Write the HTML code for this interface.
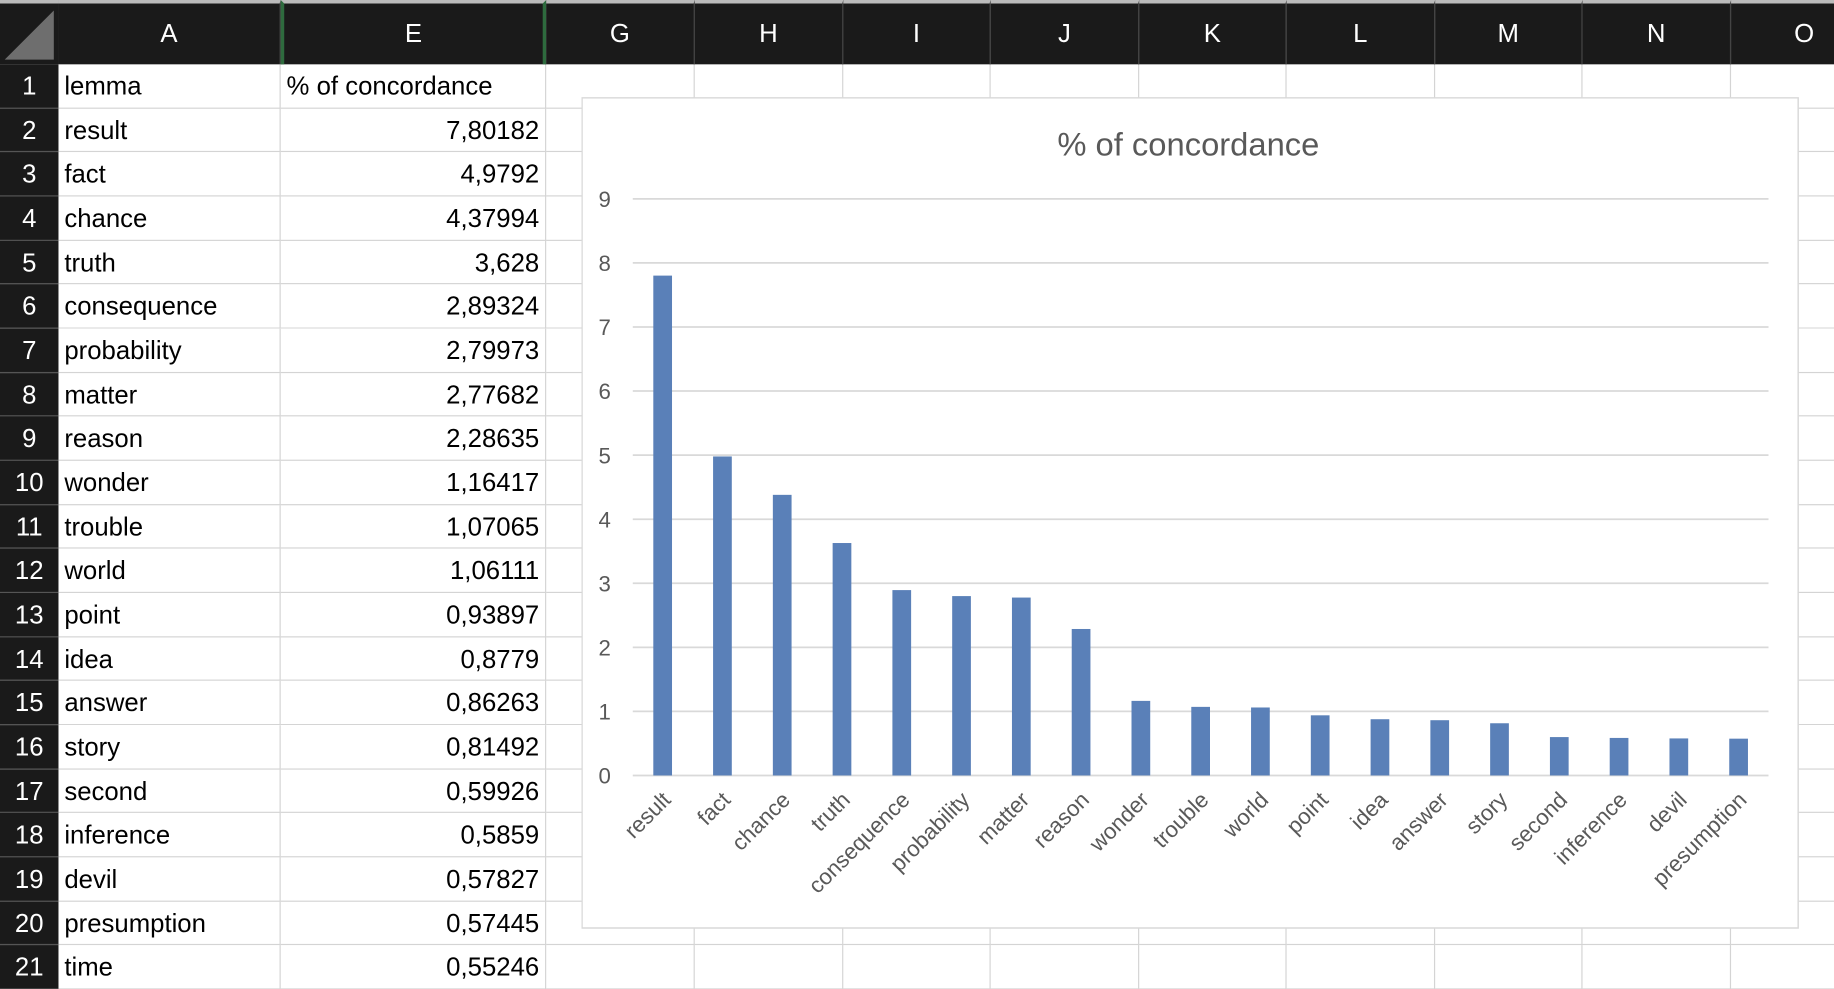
<!DOCTYPE html>
<html><head><meta charset="utf-8">
<style>
html,body{margin:0;padding:0;background:#fff;}
body{width:1834px;height:960px;overflow:hidden;position:relative;}
#wrap{position:absolute;left:0;top:0;width:1568px;height:821px;transform:scale(1.16964);transform-origin:0 0;font-family:"Liberation Sans",sans-serif;}
.abs{position:absolute;box-sizing:border-box;}
.hdr{background:#1a1a1a;color:#fff;font-size:22px;text-align:center;line-height:55px;border-right:1px solid #444;}
.rn{background:#1a1a1a;color:#fff;font-size:22px;text-align:center;border-bottom:1px solid #555;}
.cell{border-right:1px solid #d4d4d4;border-bottom:1px solid #d4d4d4;font-size:22px;color:#000;white-space:nowrap;overflow:hidden;}
</style></head>
<body>
<div id="wrap">
<svg id="chartsvg" class="abs" style="left:497px;top:83px;" width="1041" height="711"></svg>
</div>
<script>
const categories=["result","fact","chance","truth","consequence","probability","matter","reason","wonder","trouble","world","point","idea","answer","story","second","inference","devil","presumption"];
const values=[7.80182,4.9792,4.37994,3.628,2.89324,2.79973,2.77682,2.28635,1.16417,1.07065,1.06111,0.93897,0.8779,0.86263,0.81492,0.59926,0.5859,0.57827,0.57445];
const cellText=["7,80182","4,9792","4,37994","3,628","2,89324","2,79973","2,77682","2,28635","1,16417","1,07065","1,06111","0,93897","0,8779","0,86263","0,81492","0,59926","0,5859","0,57827","0,57445"];
const yTicks=[0,1,2,3,4,5,6,7,8,9];

const wrap=document.getElementById('wrap');
const colEdges=[50,240,467,594,721,847,974,1100,1227,1353,1480,1606];
const colNames=["A","E","G","H","I","J","K","L","M","N","O"];
const rowTop=55,rowH=37.66;

// grid cells behind chart
for(let r=0;r<21;r++){
  for(let c=0;c<colNames.length;c++){
    const d=document.createElement('div');
    d.className='abs cell';
    
    
    d.style.left=colEdges[c]+'px';d.style.top=(rowTop+r*rowH)+'px';
    d.style.width=(colEdges[c+1]-colEdges[c])+'px';d.style.height=rowH+'px';
    d.style.lineHeight=rowH+'px';
    if(c===0){d.style.paddingLeft='5px';d.textContent=r===0?'lemma':(categories[r-1]||'time');}
    if(c===1){
      if(r===0){d.style.paddingLeft='5px';d.textContent='% of concordance';}
      else{d.style.textAlign='right';d.style.paddingRight='5px';d.textContent=cellText[r-1]||'0,55246';}
    }
    wrap.insertBefore(d,wrap.firstChild);
  }
  const n=document.createElement('div');
  n.className='abs rn';
  
  
  n.style.left='0px';n.style.top=(rowTop+r*rowH)+'px';n.style.width='50px';n.style.height=rowH+'px';n.style.lineHeight=rowH+'px';
  n.textContent=r+1;
  wrap.appendChild(n);
}
// header
const corner=document.createElement('div');
corner.className='abs';


corner.style.cssText='left:0;top:0;width:50px;height:55px;background:#1a1a1a;border-top:3px solid #bbb;';
corner.innerHTML='<svg width="50" height="52"><polygon points="46,6 46,48 4,48" fill="#6e6e6e"/></svg>';
wrap.appendChild(corner);
for(let c=0;c<colNames.length;c++){
  const h=document.createElement('div');
  h.className='abs hdr';
  
  
  h.style.left=colEdges[c]+'px';h.style.top='0px';h.style.width=(colEdges[c+1]-colEdges[c])+'px';h.style.height='55px';
  h.style.borderTop='3px solid #bbb';h.style.lineHeight='52px';
  if(c===1){h.style.borderLeft='3px solid #2e6b3e';h.style.borderRight='3px solid #2e6b3e';}
  h.textContent=colNames[c];
  wrap.appendChild(h);
}

// chart
const svg=document.getElementById('chartsvg');
const NS='http://www.w3.org/2000/svg';
const ox=497,oy=83;
function mk(t,a){const e=document.createElementNS(NS,t);for(const k in a)e.setAttribute(k,a[k]);svg.appendChild(e);return e;}
const bg=mk('rect',{x:0.5,y:0.5,width:1040,height:710,fill:'#fff',stroke:'#d9d9d9','stroke-width':1.5});


const title=mk('text',{x:1016-ox,y:133-oy,'text-anchor':'middle','font-size':28,fill:'#595959','font-family':'Liberation Sans, sans-serif'});
title.textContent='% of concordance';


const plotL=541-ox,plotR=1512-ox,y0=663-oy,y9=170-oy,yMax=9;
const yScale=v=>y0-(v/yMax)*(y0-y9);
const step=(plotR-plotL)/categories.length;
const xScale=i=>plotL+step*(i+0.5);
yTicks.forEach(t=>{
  const g=mk('line',{x1:plotL,x2:plotR,y1:yScale(t),y2:yScale(t),stroke:'#d9d9d9','stroke-width':1.5});
  
  
  const l=mk('text',{x:517-ox,y:yScale(t)+7,'text-anchor':'middle','font-size':19,fill:'#595959','font-family':'Liberation Sans, sans-serif'});
  l.textContent=t;
  
  
});
const bw=16;
categories.forEach((c,i)=>{
  const b=mk('rect',{x:xScale(i)-bw/2,y:yScale(values[i]),width:bw,height:y0-yScale(values[i]),fill:'#5a80b8'});
  
  
  const tx=xScale(i)+8,ty=y0+22;
  const l=mk('text',{x:tx,y:ty,'text-anchor':'end','font-size':19,fill:'#595959','font-family':'Liberation Sans, sans-serif',transform:'rotate(-45 '+tx+' '+ty+')'});
  l.textContent=c;
  
  
});
</script>
</body></html>
